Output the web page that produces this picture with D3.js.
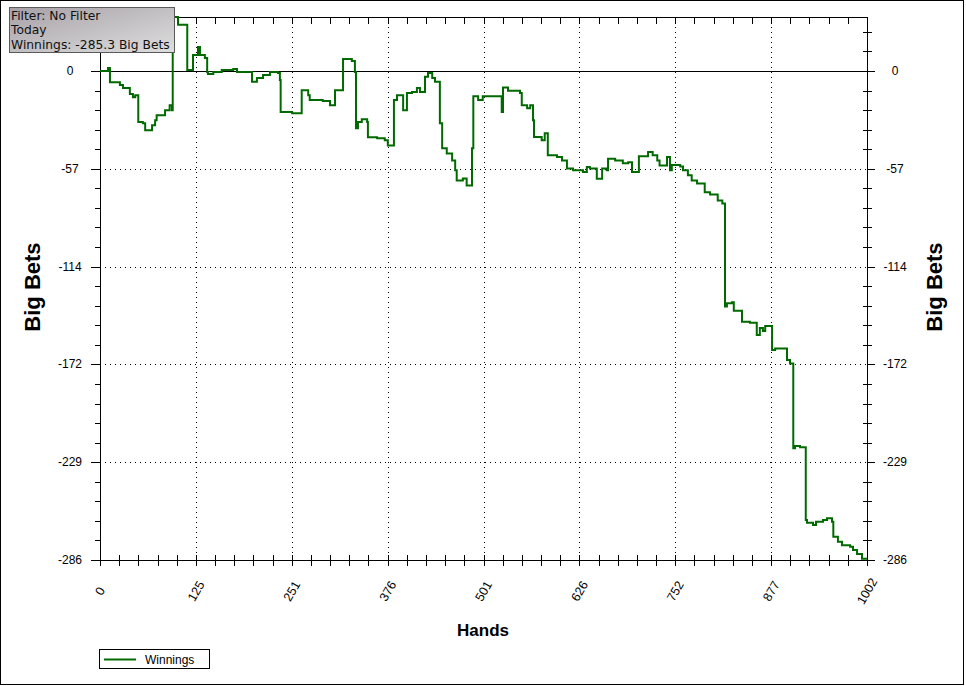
<!DOCTYPE html>
<html><head><meta charset="utf-8">
<script src="https://cdn.jsdelivr.net/npm/d3@7"></script>
<style>body{margin:0;background:#fff}svg{display:block}</style>
</head><body>
<svg id="c" width="966" height="686"></svg>
<script>
// ---- data ----
const hands = [0,10.5,13,26,30,39,43,46,50,56,59,68,72,74,85,91,94,95,102,114,121.5,128,130.6,137,140,141,148,159,174,179,198.6,205,213,222,232.5,235,236,251,263.5,272,274,291,300.5,307,317.5,329,333,334.4,337,342,349,350,362,372,376,384,388,396,401,407.6,414,418,424.6,428.5,434,437.6,444,447,453,460,464,466,474,479,486,487.7,494,500,524.8,526.5,533,548.7,551,558,562,565.7,567,577,581,585,597,603.6,610,618,631,636,640,649,656,662,663.7,673,683,690,695,704,716,722,728,731,740.7,744.6,747,758,761.6,768,773,780,790,797,807,813,816.5,819,825.5,828,838.7,849,858,862,866,869,878,882,897.5,901.4,905.7,908,914.5,922,923.6,931.5,935.4,944.5,949.8,956.3,958,964,969.3,980,983.7,989,995.5,1002];
const bets = [0,1.8,-6.5,-8.2,-10,-13.5,-15.3,-14.1,-29.8,-30.5,-34.6,-31.7,-28.8,-25.8,-22.9,-20,-22.9,31.6,27,0.6,9.4,14.1,9.4,7.6,-0.6,-1.8,-0.6,0.6,1.2,-0.6,-6.3,-4.1,-2.3,-0.6,-1.2,-5.3,-23.9,-24.7,-11.2,-14.1,-17,-17.6,-20,-11.2,7,5.9,-0.6,-33.5,-29.8,-28.2,-29.8,-38.8,-39.3,-40.5,-43.5,-17,-14.1,-22.9,-12.9,-12.3,-10,-12.2,-3.3,-1.2,-4.1,-6.3,-30.5,-45.2,-48.2,-52.3,-58.1,-64,-62.8,-67,-45.2,-14.7,-17,-14.7,-24,-9.6,-11.6,-12.9,-20,-21.7,-20,-28.8,-38.6,-40.5,-36.4,-49.3,-50.3,-52.3,-57,-58.1,-59.1,-56.2,-57,-63,-57,-58.1,-51.3,-52.3,-54,-53.3,-59.1,-49.9,-47.4,-49.3,-52.3,-55.2,-50.3,-58.1,-54.9,-55.8,-58.1,-61,-64,-65.8,-70.9,-72.2,-75.8,-77.5,-137.8,-135.8,-135.2,-140.2,-146.6,-147.2,-154.4,-150.3,-152.1,-149.2,-163.2,-162.3,-169,-171,-220.7,-219.3,-220.1,-262.6,-264.2,-265.5,-263.6,-262.6,-261.6,-263.6,-272.4,-275.3,-277.3,-278.3,-280.2,-282.5,-285.3,-285.3];
const xTickValues = [0,125.25,250.5,375.75,501,626.25,751.5,876.75,1002];
const xTickLabels = ["0","125","251","376","501","626","752","877","1002"];
const yTickValues = [0,-57.2,-114.4,-171.6,-228.8,-286];
const yTickLabels = ["0","-57","-114","-172","-229","-286"];
const infoLines = ["Filter: No Filter","Today","Winnings: -285.3 Big Bets"];
const seriesName = "Winnings";
const xTitle = "Hands", yTitle = "Big Bets";

// ---- chart ----
const svg = d3.select("#c");
const L = 100, R = 867, T = 17, B = 560;
const x = d3.scaleLinear().domain([0,1002]).range([L,R]);
const y = d3.scaleLinear().domain([-286,31.6]).range([B,T]);
const font = "'Liberation Sans', Arial, sans-serif";
const green = "#006a00";

svg.append("rect").attr("x",0.5).attr("y",0.5).attr("width",963).attr("height",684)
  .attr("fill","#fff").attr("stroke","#000");

const defs = svg.append("defs");
defs.append("clipPath").attr("id","pc").append("rect")
  .attr("x",L).attr("y",T-1).attr("width",R-L+1).attr("height",B-T+2);
const grad = defs.append("linearGradient").attr("id","ig")
  .attr("x1","0").attr("y1","0").attr("x2","1").attr("y2","1");
grad.append("stop").attr("offset","0").attr("stop-color","#a7a1a7");
grad.append("stop").attr("offset","1").attr("stop-color","#dedede");

const g = svg.append("g");
const xMinor = d3.range(0, 1002.01, 1002/40);
const yMinor = d3.range(-286, 31.7, 57.2/5);

// dotted grid
g.selectAll(".vg").data(xTickValues.slice(1,-1)).join("line")
  .attr("x1",d=>Math.round(x(d))+0.5).attr("x2",d=>Math.round(x(d))+0.5)
  .attr("y1",T).attr("y2",B).attr("stroke","#000").attr("stroke-dasharray","1,4");
g.selectAll(".hg").data(yTickValues.slice(1,-1)).join("line")
  .attr("x1",L).attr("x2",R).attr("y1",d=>Math.round(y(d))+0.5).attr("y2",d=>Math.round(y(d))+0.5)
  .attr("stroke","#000").attr("stroke-dasharray","1,4");
// zero line
g.append("line").attr("x1",91).attr("x2",875).attr("y1",Math.round(y(0))+0.5).attr("y2",Math.round(y(0))+0.5)
  .attr("stroke","#000");

// axes lines
const ax = g.append("g").attr("stroke","#000").attr("shape-rendering","crispEdges");
ax.append("line").attr("x1",91).attr("x2",875).attr("y1",B+0.5).attr("y2",B+0.5);
ax.append("line").attr("x1",L+0.5).attr("x2",L+0.5).attr("y1",T).attr("y2",B+6);
ax.append("line").attr("x1",R+0.5).attr("x2",R+0.5).attr("y1",T).attr("y2",B+6);
ax.append("line").attr("x1",L).attr("x2",R+1).attr("y1",T+0.5).attr("y2",T+0.5);
// x ticks bottom and top
xMinor.forEach(v=>{
  const px = Math.round(x(v))+0.5;
  ax.append("line").attr("x1",px).attr("x2",px).attr("y1",B-5).attr("y2",B+6);
  ax.append("line").attr("x1",px).attr("x2",px).attr("y1",T).attr("y2",T+7);
});
// y ticks left & right
yMinor.forEach(v=>{
  const py = Math.round(y(v))+0.5;
  const major = yTickValues.some(t=>Math.abs(t-v)<0.01);
  ax.append("line").attr("x1",major?91:95).attr("x2",L).attr("y1",py).attr("y2",py);
  ax.append("line").attr("x1",major?R:R-4).attr("x2",major?875:R+5).attr("y1",py).attr("y2",py);
});

// tick labels
g.selectAll(".yl").data(yTickValues).join("text")
  .attr("x",70).attr("y",d=>y(d)+4).attr("text-anchor","middle")
  .attr("font-family",font).attr("font-size",12).text((d,i)=>yTickLabels[i]);
g.selectAll(".yr").data(yTickValues).join("text")
  .attr("x",895).attr("y",d=>y(d)+4).attr("text-anchor","middle")
  .attr("font-family",font).attr("font-size",12).text((d,i)=>yTickLabels[i]);
g.selectAll(".xl").data(xTickValues).join("text")
  .attr("transform",d=>`translate(${x(d)},${591}) rotate(-60)`)
  .attr("text-anchor","middle").attr("dy","0.35em")
  .attr("font-family",font).attr("font-size",12.5).text((d,i)=>xTickLabels[i]);

// titles
svg.append("text").attr("transform","translate(40,287) rotate(-90)").attr("text-anchor","middle")
  .attr("font-family",font).attr("font-weight","bold").attr("font-size",22).text(yTitle);
svg.append("text").attr("transform","translate(942,287) rotate(-90)").attr("text-anchor","middle")
  .attr("font-family",font).attr("font-weight","bold").attr("font-size",22).text(yTitle);
svg.append("text").attr("x",483).attr("y",636).attr("text-anchor","middle")
  .attr("font-family",font).attr("font-weight","bold").attr("font-size",17).text(xTitle);

// series line
const data = hands.map((h,i)=>[h,bets[i]]);
svg.append("path").datum(data).attr("clip-path","url(#pc)")
  .attr("fill","none").attr("stroke",green).attr("stroke-width",2)
  .attr("d", d3.line().x(d=>x(d[0])).y(d=>y(d[1])).curve(d3.curveStepAfter));

// info box
svg.append("rect").attr("x",9.5).attr("y",7.5).attr("width",165).attr("height",45)
  .attr("fill","url(#ig)").attr("stroke","#5a5a5a");
svg.selectAll(".info").data(infoLines).join("text")
  .attr("x",11).attr("y",(d,i)=>19.5+i*14.5)
  .attr("font-family","'DejaVu Sans', Verdana, sans-serif").attr("font-size",12.3)
  .attr("fill","#111").text(d=>d);

// legend
svg.append("rect").attr("x",99.5).attr("y",649.5).attr("width",110).attr("height",19)
  .attr("fill","#fff").attr("stroke","#000");
svg.append("line").attr("x1",104).attr("x2",136).attr("y1",659.5).attr("y2",659.5)
  .attr("stroke",green).attr("stroke-width",2);
svg.append("text").attr("x",145).attr("y",664).attr("font-family",font).attr("font-size",12)
  .text(seriesName);
</script>
</body></html>
